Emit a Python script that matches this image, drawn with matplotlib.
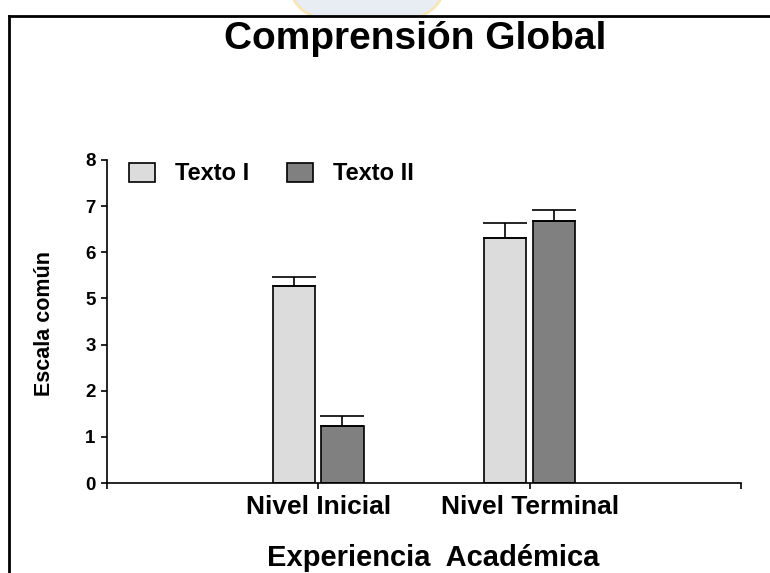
import matplotlib
matplotlib.use("Agg")
import matplotlib.pyplot as plt
from matplotlib.lines import Line2D
from matplotlib.patches import Ellipse, Rectangle
import numpy as np

plt.rcParams['font.family'] = ['Liberation Sans', 'DejaVu Sans']
plt.rcParams['font.weight'] = 'bold'

# data (in axis units; the scale is labelled 0,1,2,3,5,6,7,8)
groups = ["Nivel Inicial", "Nivel Terminal"]
series = ["Texto I", "Texto II"]
texto1 = [4.28, 5.31]
texto2 = [1.24, 5.67]
err1 = [0.18, 0.32]
err2 = [0.22, 0.25]
ytick_labels = ["0", "1", "2", "3", "5", "6", "7", "8"]

colors = ["#dcdcdc", "#808080"]

fig = plt.figure(figsize=(7.7, 5.73), dpi=100)
ax = fig.add_axes([106.7 / 770, 1 - 483 / 573, (741 - 106.7) / 770, (483 - 160) / 573])

x = np.arange(1, len(groups) + 1)
w = 0.2
off = 0.115

bars = []
for vals, errs, c, dx, name in [(texto1, err1, colors[0], -off, series[0]),
                                (texto2, err2, colors[1], off, series[1])]:
    b = ax.bar(x + dx, vals, width=w, color=c, edgecolor="black", linewidth=1.2,
               label=name, zorder=2)
    bars.append(b)
    ax.errorbar(x + dx, vals, yerr=[np.zeros(len(vals)), errs], fmt="none",
                ecolor="black", elinewidth=1.2, capsize=16, capthick=1.2, zorder=3)

ax.set_xlim(0, 3)
ax.set_ylim(0, 7)
ax.set_yticks(range(len(ytick_labels)))
ax.set_yticklabels(ytick_labels)
ax.set_xticks([0, 1, 2, 3])
ax.set_xticklabels(["", groups[0], groups[1], ""])

for s in ["top", "right"]:
    ax.spines[s].set_visible(False)
for s in ["left", "bottom"]:
    ax.spines[s].set_linewidth(1.2)

ax.tick_params(axis="y", direction="out", length=4.5, width=1.2, pad=3.5, labelsize=13.5)
ax.tick_params(axis="x", direction="out", length=4.5, width=1.2, pad=4, labelsize=19)
for lab in ax.get_xticklabels() + ax.get_yticklabels():
    lab.set_fontweight("bold")

ax.legend(handles=bars, labels=series, ncol=2, frameon=False, fontsize=17,
          loc="center left", bbox_to_anchor=(129 / 770, 1 - 174 / 573),
          bbox_transform=fig.transFigure, borderpad=0, borderaxespad=0,
          handlelength=1.1, handleheight=0.9, handletextpad=0.85,
          columnspacing=1.6)

fig.text(415 / 770, 1 - 39 / 573, "Comprensión Global", ha="center", va="center",
         fontsize=28, fontweight="bold")
fig.text(433 / 770, 1 - 558 / 573, "Experiencia  Académica", ha="center", va="center",
         fontsize=21, fontweight="bold")
fig.text(44 / 770, 1 - 324 / 573, "Escala común", ha="center", va="center",
         rotation=90, fontsize=15.5, fontweight="bold")

# faint logo above the top edge
top = 1 - 16 / 573
clip = Rectangle((0, top), 1, 1 - top, transform=fig.transFigure)
logo = Ellipse((367 / 770, 1 + 8 / 573), 150 / 770, 70 / 573, transform=fig.transFigure,
               facecolor="#e8edf3", edgecolor="#f7e6b8", linewidth=2.0, zorder=0)
logo.set_clip_path(clip)
fig.add_artist(logo)

# page frame
fig.add_artist(Line2D([9 / 770, 1.0], [top, top],
                      transform=fig.transFigure, color="black", linewidth=2.0))
fig.add_artist(Line2D([9 / 770, 9 / 770], [0, top],
                      transform=fig.transFigure, color="black", linewidth=2.0))

fig.savefig("out.png", dpi=100)
